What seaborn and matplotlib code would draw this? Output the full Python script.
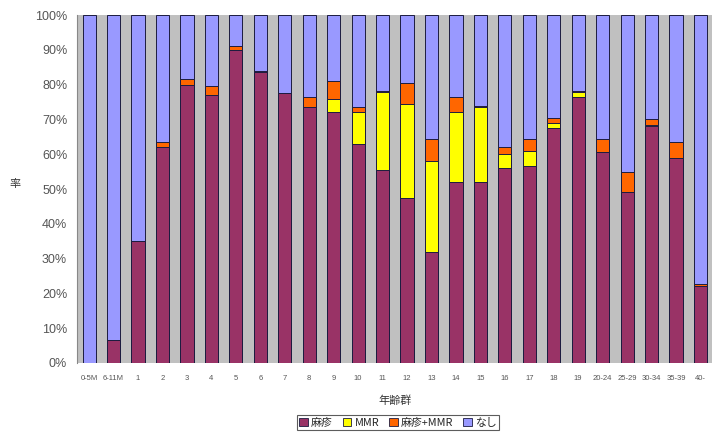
import matplotlib
matplotlib.use("Agg")
import matplotlib.pyplot as plt
from matplotlib.patches import Patch
import numpy as np
import pandas as pd
import seaborn as sns

# Age groups
age_groups = ["0-5M", "6-11M", "1", "2", "3", "4", "5", "6", "7", "8", "9",
              "10", "11", "12", "13", "14", "15", "16", "17", "18", "19",
              "20-24", "25-29", "30-34", "35-39", "40-"]

# Share (%) by vaccination status
measles = [0, 6.5, 35, 62, 80, 77, 90, 83.5, 77.5, 73.5, 72,
           63, 55.5, 47.5, 32, 52, 52, 56, 56.5, 67.5, 76.3,
           60.5, 49, 68, 59, 22]
mmr = [0, 0, 0, 0, 0, 0, 0, 0, 0, 0, 4,
       9, 22.5, 27, 26, 20, 21.5, 4, 4.5, 1.5, 1.5,
       0, 0, 0.5, 0, 0]
measles_mmr = [0, 0, 0, 1.5, 1.5, 2.5, 1, 0.5, 0, 3, 5,
               1.5, 0.3, 6, 6.5, 4.5, 0.3, 2, 3.5, 1.5, 0.3,
               4, 6, 1.5, 4.5, 0.7]
series_names = ["麻疹", "MMR", "麻疹+MMR", "なし"]
colors = ["#993366", "#ffff00", "#ff6600", "#9999ff"]
yticks = [0, 10, 20, 30, 40, 50, 60, 70, 80, 90, 100]
ytick_labels = [f"{v}%" for v in yticks]

c1 = np.array(measles, dtype=float)
c2 = c1 + np.array(mmr)
c3 = c2 + np.array(measles_mmr)
c4 = np.full(len(age_groups), 100.0)

df = pd.DataFrame({"age": age_groups, "c1": c1, "c2": c2, "c3": c3, "c4": c4})

sns.set_theme(style="white")
plt.rcParams["font.family"] = ["Liberation Sans", "Noto Sans CJK JP", "DejaVu Sans"]

fig = plt.figure(figsize=(7.12, 4.34), dpi=100)
ax = fig.add_axes([0.108, 0.1636, 0.893, 0.8018])
ax.set_facecolor("#c0c0c0")

# Stacked bars drawn as overlapping cumulative totals (top layer first)
for col, color in zip(["c4", "c3", "c2", "c1"], colors[::-1]):
    sns.barplot(data=df, x="age", y=col, color=color, width=0.54,
                edgecolor="#1c1c40", linewidth=0.7, saturation=1, ax=ax,
                order=age_groups)

ax.set_ylim(0, 100)
ax.set_xlim(-0.5, len(age_groups) - 0.5)
ax.set_yticks(yticks)
ax.set_yticklabels(ytick_labels, fontsize=9, color="#555555")
ax.tick_params(axis="x", labelsize=5.5, labelcolor="#555555", length=0, pad=9)
ax.tick_params(axis="y", length=3, color="#777777", pad=4)
ax.set_xlabel("年齢群", fontsize=8, family=["Noto Sans CJK JP"], color="#333333", labelpad=9)
ax.set_ylabel("率", fontsize=8, family=["Noto Sans CJK JP"], color="#333333", rotation=0, labelpad=14)
for side in ["top", "right", "bottom"]:
    ax.spines[side].set_visible(False)
ax.spines["left"].set_color("#888888")
ax.spines["left"].set_linewidth(0.8)

handles = [Patch(facecolor=c, edgecolor="#1c1c40", linewidth=0.6) for c in colors]
leg = fig.legend(handles, series_names, loc="center", bbox_to_anchor=(0.559, 0.026),
                 ncol=4, frameon=True, fancybox=False,
                 handlelength=0.8, handleheight=0.8, handletextpad=0.3,
                 columnspacing=0.9, borderpad=0.25,
                 prop={"family": ["Noto Sans CJK JP", "DejaVu Sans"], "size": 7.8})
leg.get_frame().set_edgecolor("#333333")
leg.get_frame().set_linewidth(0.8)

fig.savefig("out.png", dpi=100)
